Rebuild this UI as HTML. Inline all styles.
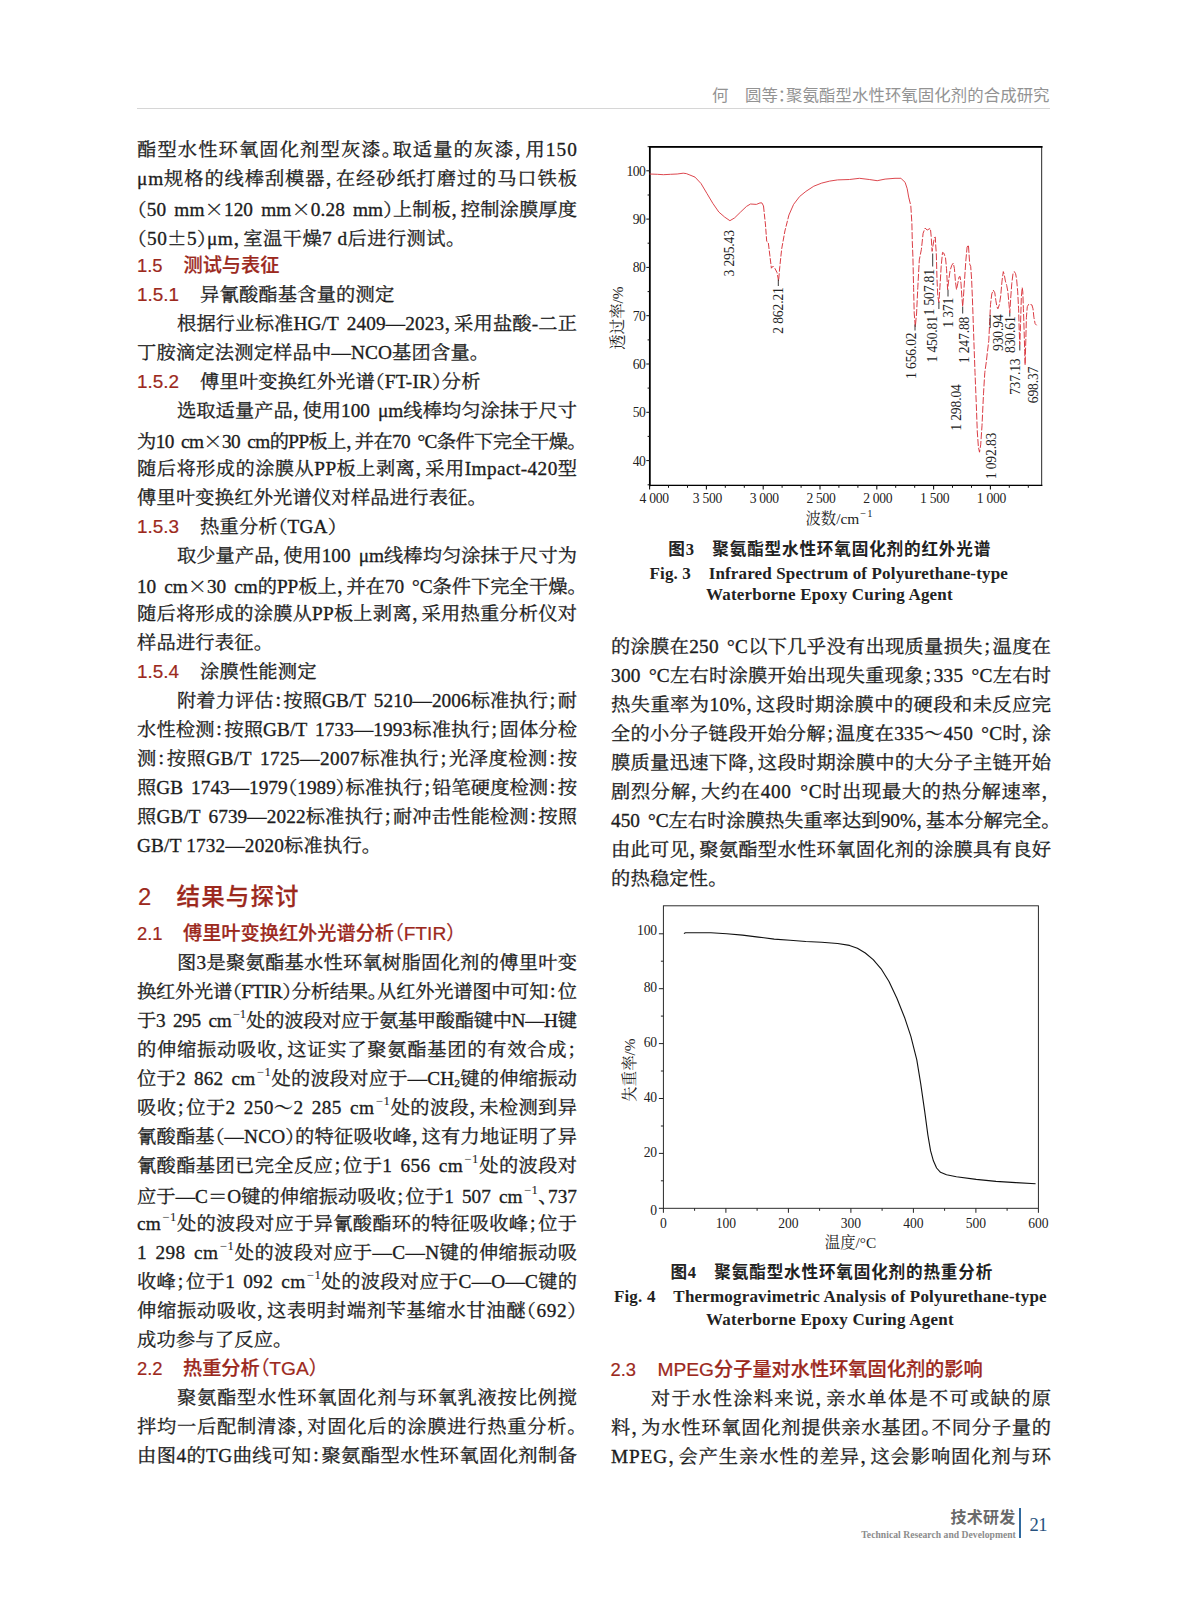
<!DOCTYPE html>
<html lang="zh-CN"><head><meta charset="utf-8"><title>聚氨酯型水性环氧固化剂的合成研究</title>
<style>
html,body{margin:0;padding:0;background:#fff;}
body{width:1187px;height:1600px;position:relative;overflow:hidden;
 font-family:"Liberation Serif","Noto Serif CJK SC",serif;color:#1c1c1c;}
.l{position:absolute;height:30px;line-height:30px;font-size:18.3px;white-space:nowrap;
 font-feature-settings:"halt";font-weight:400;-webkit-text-stroke-width:0.3px;transform:scaleX(1.055);transform-origin:0 50%;}
.nx{transform:none;}
.c{font-family:"Noto Serif CJK SC",serif;}
.h{font-family:"Liberation Sans","Noto Sans CJK SC",sans-serif;color:#9c291d;-webkit-text-stroke-width:0;}
.hb{font-weight:500;-webkit-text-stroke-width:0.22px;}
.n{font-family:"Liberation Sans",sans-serif;color:#9c291d;font-size:18.9px;-webkit-text-stroke-width:0.2px;word-spacing:0;}
sup{font-size:12px;line-height:0;vertical-align:8.8px;padding:0 0.5px 0 1.5px;-webkit-text-stroke-width:0.1px;}
sub{font-size:11px;line-height:0;vertical-align:-2px;}
svg{position:absolute;left:0;top:0;}
svg text{font-family:"Liberation Serif","Noto Serif CJK SC",serif;fill:#222;}
</style></head><body>
<svg width="1187" height="1600" viewBox="0 0 1187 1600">
<rect x="649.8" y="146.8" width="391.9" height="338.6" fill="none" stroke="#111" stroke-width="0.9"/>
<path d="M649.8 485.4 V146.8 H1041.7" fill="none" stroke="#000" stroke-width="1.7" stroke-linecap="square"/>
<path d="M649.8 485.4 H1041.7" fill="none" stroke="#000" stroke-width="1.3" stroke-linecap="square"/>
<line x1="646.3" y1="460.6" x2="649.8" y2="460.6" stroke="#111" stroke-width="1"/>
<text x="645.4" y="465.5" font-size="13.6" letter-spacing="-0.5" text-anchor="end">40</text>
<line x1="646.3" y1="412.3" x2="649.8" y2="412.3" stroke="#111" stroke-width="1"/>
<text x="645.4" y="417.2" font-size="13.6" letter-spacing="-0.5" text-anchor="end">50</text>
<line x1="646.3" y1="364.0" x2="649.8" y2="364.0" stroke="#111" stroke-width="1"/>
<text x="645.4" y="368.9" font-size="13.6" letter-spacing="-0.5" text-anchor="end">60</text>
<line x1="646.3" y1="315.7" x2="649.8" y2="315.7" stroke="#111" stroke-width="1"/>
<text x="645.4" y="320.6" font-size="13.6" letter-spacing="-0.5" text-anchor="end">70</text>
<line x1="646.3" y1="267.4" x2="649.8" y2="267.4" stroke="#111" stroke-width="1"/>
<text x="645.4" y="272.3" font-size="13.6" letter-spacing="-0.5" text-anchor="end">80</text>
<line x1="646.3" y1="219.1" x2="649.8" y2="219.1" stroke="#111" stroke-width="1"/>
<text x="645.4" y="224.0" font-size="13.6" letter-spacing="-0.5" text-anchor="end">90</text>
<line x1="646.3" y1="170.8" x2="649.8" y2="170.8" stroke="#111" stroke-width="1"/>
<text x="645.4" y="175.7" font-size="13.6" letter-spacing="-0.5" text-anchor="end">100</text>
<line x1="647.5999999999999" y1="484.8" x2="649.8" y2="484.8" stroke="#111" stroke-width="1"/>
<line x1="647.5999999999999" y1="436.4" x2="649.8" y2="436.4" stroke="#111" stroke-width="1"/>
<line x1="647.5999999999999" y1="388.1" x2="649.8" y2="388.1" stroke="#111" stroke-width="1"/>
<line x1="647.5999999999999" y1="339.9" x2="649.8" y2="339.9" stroke="#111" stroke-width="1"/>
<line x1="647.5999999999999" y1="291.6" x2="649.8" y2="291.6" stroke="#111" stroke-width="1"/>
<line x1="647.5999999999999" y1="243.2" x2="649.8" y2="243.2" stroke="#111" stroke-width="1"/>
<line x1="647.5999999999999" y1="195.0" x2="649.8" y2="195.0" stroke="#111" stroke-width="1"/>
<line x1="647.5999999999999" y1="146.7" x2="649.8" y2="146.7" stroke="#111" stroke-width="1"/>
<line x1="649.6" y1="485.4" x2="649.6" y2="489.4" stroke="#111" stroke-width="1.1"/>
<text x="654.1" y="503" font-size="13.6" letter-spacing="-0.3" text-anchor="middle">4 000</text>
<line x1="668.5" y1="485.4" x2="668.5" y2="487.79999999999995" stroke="#111" stroke-width="1"/>
<line x1="687.5" y1="485.4" x2="687.5" y2="487.79999999999995" stroke="#111" stroke-width="1"/>
<line x1="706.4" y1="485.4" x2="706.4" y2="489.4" stroke="#111" stroke-width="1.1"/>
<text x="707.4" y="503" font-size="13.6" letter-spacing="-0.3" text-anchor="middle">3 500</text>
<line x1="725.3" y1="485.4" x2="725.3" y2="487.79999999999995" stroke="#111" stroke-width="1"/>
<line x1="744.3" y1="485.4" x2="744.3" y2="487.79999999999995" stroke="#111" stroke-width="1"/>
<line x1="763.2" y1="485.4" x2="763.2" y2="489.4" stroke="#111" stroke-width="1.1"/>
<text x="764.2" y="503" font-size="13.6" letter-spacing="-0.3" text-anchor="middle">3 000</text>
<line x1="782.1" y1="485.4" x2="782.1" y2="487.79999999999995" stroke="#111" stroke-width="1"/>
<line x1="801.1" y1="485.4" x2="801.1" y2="487.79999999999995" stroke="#111" stroke-width="1"/>
<line x1="820.0" y1="485.4" x2="820.0" y2="489.4" stroke="#111" stroke-width="1.1"/>
<text x="821.0" y="503" font-size="13.6" letter-spacing="-0.3" text-anchor="middle">2 500</text>
<line x1="838.9" y1="485.4" x2="838.9" y2="487.79999999999995" stroke="#111" stroke-width="1"/>
<line x1="857.9" y1="485.4" x2="857.9" y2="487.79999999999995" stroke="#111" stroke-width="1"/>
<line x1="876.8" y1="485.4" x2="876.8" y2="489.4" stroke="#111" stroke-width="1.1"/>
<text x="877.8" y="503" font-size="13.6" letter-spacing="-0.3" text-anchor="middle">2 000</text>
<line x1="895.7" y1="485.4" x2="895.7" y2="487.79999999999995" stroke="#111" stroke-width="1"/>
<line x1="914.7" y1="485.4" x2="914.7" y2="487.79999999999995" stroke="#111" stroke-width="1"/>
<line x1="933.6" y1="485.4" x2="933.6" y2="489.4" stroke="#111" stroke-width="1.1"/>
<text x="934.6" y="503" font-size="13.6" letter-spacing="-0.3" text-anchor="middle">1 500</text>
<line x1="952.5" y1="485.4" x2="952.5" y2="487.79999999999995" stroke="#111" stroke-width="1"/>
<line x1="971.5" y1="485.4" x2="971.5" y2="487.79999999999995" stroke="#111" stroke-width="1"/>
<line x1="990.4" y1="485.4" x2="990.4" y2="489.4" stroke="#111" stroke-width="1.1"/>
<text x="991.4" y="503" font-size="13.6" letter-spacing="-0.3" text-anchor="middle">1 000</text>
<line x1="1009.3" y1="485.4" x2="1009.3" y2="487.79999999999995" stroke="#111" stroke-width="1"/>
<line x1="1028.3" y1="485.4" x2="1028.3" y2="487.79999999999995" stroke="#111" stroke-width="1"/>
<text x="839.5" y="523.5" font-size="15.4" text-anchor="middle">波数/cm<tspan font-size="10.5" dy="-6.5" dx="1" letter-spacing="1">−1</tspan></text>
<text transform="translate(622.5,318) rotate(-90)" font-size="15.4" text-anchor="middle">透过率/%</text>
<path d="M649.5 174.0 L657.4 174.3 L663.4 174.7 L670.5 174.3 L677.2 174.0 L683.2 173.2 L686.3 173.6 L689.1 174.7 L695.0 177.1 L701.0 183.5 L706.9 193.4 L712.8 203.3 L718.8 212.0 L724.7 217.1 L729.9 220.7 L734.6 217.9 L740.6 212.0 L746.5 206.4 L750.5 204.0 L756.4 204.4 L760.0 202.9 L761.9 202.9 L763.5 206.0" fill="none" stroke="#d8323a" stroke-width="0.9" stroke-linejoin="round"/>
<path d="M763.5 206.0 L765.5 225.0 L766.7 241.3 L768.3 242.5 L769.9 255.9 L771.4 268.2 L773.0 266.2 L775.0 268.6 L777.0 272.5 L778.6 280.9 L779.8 266.6 L781.7 248.8 L784.9 231.0 L788.9 215.1" fill="none" stroke="#d8323a" stroke-width="0.95" stroke-dasharray="6 1.6" stroke-linejoin="round"/>
<path d="M788.9 215.1 L793.6 204.4 L799.6 196.5 L805.9 191.4 L813.8 186.2 L821.7 183.1 L829.7 181.1 L837.6 179.9 L849.5 179.5 L859.4 178.3 L869.3 179.5 L877.2 180.7 L885.1 179.1 L895.0 178.3 L900.9 178.3 L901.3 178.7 L905.1 182.3 L907.2 188.7 L908.7 197.2" fill="none" stroke="#d8323a" stroke-width="0.9" stroke-linejoin="round"/>
<path d="M908.7 197.2 L910.8 205.7 L911.9 223.8 L912.3 241.8 L912.9 256.7 L913.6 287.5 L914.2 313.0 L915.3 326.8 L916.6 313.0 L917.8 287.5 L919.3 259.9 L921.4 249.3 L923.1 233.3 L925.1 228.0 L927.2 230.1 L928.9 229.1 L930.4 228.4 L931.2 236.5 L932.1 251.4 L933.1 245.0 L934.4 237.6 L935.3 237.1 L935.7 245.0 L936.3 253.5 L937.0 279.0 L937.8 296.0 L938.9 302.4 L939.9 287.5 L941.2 266.3 L942.5 252.4 L943.8 253.1 L945.5 257.8 L946.5 268.4 L947.6 289.6 L948.6 281.1 L950.1 270.5 L951.8 265.2 L953.3 263.1 L954.4 268.4 L955.4 281.1 L956.5 289.6 L957.8 283.3 L959.1 276.9 L960.1 276.5 L961.0 283.3 L961.8 296.0 L962.7 306.6 L963.5 296.0 L964.6 279.0 L965.9 259.9 L967.1 247.1 L968.4 245.0 L969.0 253.5 L969.7 264.1 L970.7 266.3 L971.6 279.0 L972.4 298.1 L973.5 330.0 L975.0 372.5 L976.3 404.4 L977.3 432.0 L978.4 446.9 L979.5 452.2 L980.7 444.8 L982.0 425.6 L983.5 393.8 L984.8 372.5 L986.3 361.9 L987.5 351.3 L988.8 340.6 L989.7 321.5 L990.5 304.5 L991.8 293.9 L993.3 290.1 L994.8 292.8 L995.8 300.3 L996.9 306.6 L997.9 308.8 L999.4 304.5 L1000.7 296.0 L1002.0 281.1 L1003.3 271.6 L1004.3 274.8 L1005.4 281.1 L1006.7 285.4 L1007.9 291.8 L1009.0 304.5 L1009.8 313.0 L1010.7 298.1 L1011.8 283.3 L1013.0 273.7 L1014.3 271.6 L1015.6 273.7 L1016.6 279.0 L1017.7 291.8 L1018.6 308.8 L1019.2 330.0 L1019.8 344.9 L1020.5 325.8 L1021.3 298.1 L1022.2 287.5 L1022.8 291.8 L1023.4 308.8 L1024.1 330.0 L1024.7 351.3 L1025.1 365.1 L1025.8 340.6 L1026.4 317.3 L1027.3 306.6 L1028.8 304.1 L1030.5 304.5 L1031.9 304.9 L1033.0 308.8 L1033.9 317.3 L1035.1 323.6 L1036.6 325.3" fill="none" stroke="#d8323a" stroke-width="0.95" stroke-dasharray="7 1.8" stroke-linejoin="round"/>
<text transform="translate(733.8,253.3) rotate(-90)" font-size="13.6" letter-spacing="-0.15" text-anchor="middle">3 295.43</text>
<text transform="translate(782.5,310.5) rotate(-90)" font-size="13.6" letter-spacing="-0.15" text-anchor="middle">2 862.21</text>
<text transform="translate(915.9,355.7) rotate(-90)" font-size="13.6" letter-spacing="-0.15" text-anchor="middle">1 656.02</text>
<text transform="translate(933.7,292.3) rotate(-90)" font-size="13.6" letter-spacing="-0.15" text-anchor="middle">1 507.81</text>
<text transform="translate(936.7,339.3) rotate(-90)" font-size="13.6" letter-spacing="-0.15" text-anchor="middle">1 450.81</text>
<text transform="translate(952.5,312.8) rotate(-90)" font-size="13.6" letter-spacing="-0.15" text-anchor="middle">1 371</text>
<text transform="translate(969.3,340.0) rotate(-90)" font-size="13.6" letter-spacing="-0.15" text-anchor="middle">1 247.88</text>
<text transform="translate(960.8,407.5) rotate(-90)" font-size="13.6" letter-spacing="-0.15" text-anchor="middle">1 298.04</text>
<text transform="translate(995.8,456.0) rotate(-90)" font-size="13.6" letter-spacing="-0.15" text-anchor="middle">1 092.83</text>
<text transform="translate(1002.9,332.7) rotate(-90)" font-size="13.6" letter-spacing="-0.15" text-anchor="middle">930.94</text>
<text transform="translate(1015.0,334.7) rotate(-90)" font-size="13.6" letter-spacing="-0.15" text-anchor="middle">830.61</text>
<text transform="translate(1020.3,376.8) rotate(-90)" font-size="13.6" letter-spacing="-0.15" text-anchor="middle">737.13</text>
<text transform="translate(1037.7,385.0) rotate(-90)" font-size="13.6" letter-spacing="-0.15" text-anchor="middle">698.37</text>
<line x1="778.3" y1="279.5" x2="778.3" y2="286" stroke="#222" stroke-width="0.9"/>
<line x1="915" y1="324.5" x2="915" y2="330.5" stroke="#222" stroke-width="0.9"/>
<line x1="932.7" y1="253.5" x2="932.7" y2="266.5" stroke="#222" stroke-width="0.9"/>
<line x1="938.9" y1="302" x2="938.9" y2="309" stroke="#222" stroke-width="0.9"/>
<line x1="948" y1="289.6" x2="948" y2="296.5" stroke="#222" stroke-width="0.9"/>
<line x1="962.7" y1="306.6" x2="962.7" y2="313.5" stroke="#222" stroke-width="0.9"/>
<line x1="990.2" y1="315" x2="990.2" y2="328" stroke="#222" stroke-width="0.9"/>
<line x1="1009.8" y1="313" x2="1009.8" y2="316.5" stroke="#222" stroke-width="0.9"/>
<line x1="1019.8" y1="345" x2="1019.8" y2="350.5" stroke="#222" stroke-width="0.9"/>
<rect x="663.4" y="905.8" width="375.0" height="302.5" fill="none" stroke="#222" stroke-width="0.95"/>
<line x1="658.9" y1="1208.3" x2="663.4" y2="1208.3" stroke="#222" stroke-width="1"/>
<text x="656.9" y="1214.9" font-size="13.6" letter-spacing="-0.2" text-anchor="end">0</text>
<line x1="660.9" y1="1180.8" x2="663.4" y2="1180.8" stroke="#222" stroke-width="1"/>
<line x1="658.9" y1="1153.4" x2="663.4" y2="1153.4" stroke="#222" stroke-width="1"/>
<text x="656.9" y="1157.2" font-size="13.6" letter-spacing="-0.2" text-anchor="end">20</text>
<line x1="660.9" y1="1126.0" x2="663.4" y2="1126.0" stroke="#222" stroke-width="1"/>
<line x1="658.9" y1="1098.5" x2="663.4" y2="1098.5" stroke="#222" stroke-width="1"/>
<text x="656.9" y="1101.9" font-size="13.6" letter-spacing="-0.2" text-anchor="end">40</text>
<line x1="660.9" y1="1071.0" x2="663.4" y2="1071.0" stroke="#222" stroke-width="1"/>
<line x1="658.9" y1="1043.6" x2="663.4" y2="1043.6" stroke="#222" stroke-width="1"/>
<text x="656.9" y="1047.0" font-size="13.6" letter-spacing="-0.2" text-anchor="end">60</text>
<line x1="660.9" y1="1016.1" x2="663.4" y2="1016.1" stroke="#222" stroke-width="1"/>
<line x1="658.9" y1="988.7" x2="663.4" y2="988.7" stroke="#222" stroke-width="1"/>
<text x="656.9" y="991.7" font-size="13.6" letter-spacing="-0.2" text-anchor="end">80</text>
<line x1="660.9" y1="961.2" x2="663.4" y2="961.2" stroke="#222" stroke-width="1"/>
<line x1="658.9" y1="933.8" x2="663.4" y2="933.8" stroke="#222" stroke-width="1"/>
<text x="656.9" y="935.4" font-size="13.6" letter-spacing="-0.2" text-anchor="end">100</text>
<line x1="663.4" y1="1208.3" x2="663.4" y2="1212.8" stroke="#222" stroke-width="1"/>
<text x="663.4" y="1227.8" font-size="13.6" text-anchor="middle">0</text>
<line x1="694.6" y1="1208.3" x2="694.6" y2="1210.8" stroke="#222" stroke-width="1"/>
<line x1="725.9" y1="1208.3" x2="725.9" y2="1212.8" stroke="#222" stroke-width="1"/>
<text x="725.9" y="1227.8" font-size="13.6" text-anchor="middle">100</text>
<line x1="757.1" y1="1208.3" x2="757.1" y2="1210.8" stroke="#222" stroke-width="1"/>
<line x1="788.4" y1="1208.3" x2="788.4" y2="1212.8" stroke="#222" stroke-width="1"/>
<text x="788.4" y="1227.8" font-size="13.6" text-anchor="middle">200</text>
<line x1="819.6" y1="1208.3" x2="819.6" y2="1210.8" stroke="#222" stroke-width="1"/>
<line x1="850.9" y1="1208.3" x2="850.9" y2="1212.8" stroke="#222" stroke-width="1"/>
<text x="850.9" y="1227.8" font-size="13.6" text-anchor="middle">300</text>
<line x1="882.1" y1="1208.3" x2="882.1" y2="1210.8" stroke="#222" stroke-width="1"/>
<line x1="913.4" y1="1208.3" x2="913.4" y2="1212.8" stroke="#222" stroke-width="1"/>
<text x="913.4" y="1227.8" font-size="13.6" text-anchor="middle">400</text>
<line x1="944.6" y1="1208.3" x2="944.6" y2="1210.8" stroke="#222" stroke-width="1"/>
<line x1="975.9" y1="1208.3" x2="975.9" y2="1212.8" stroke="#222" stroke-width="1"/>
<text x="975.9" y="1227.8" font-size="13.6" text-anchor="middle">500</text>
<line x1="1007.1" y1="1208.3" x2="1007.1" y2="1210.8" stroke="#222" stroke-width="1"/>
<line x1="1038.4" y1="1208.3" x2="1038.4" y2="1212.8" stroke="#222" stroke-width="1"/>
<text x="1038.4" y="1227.8" font-size="13.6" text-anchor="middle">600</text>
<text x="850.5" y="1248" font-size="15.4" text-anchor="middle">温度/°C</text>
<text transform="translate(634.5,1070) rotate(-90)" font-size="15.4" text-anchor="middle">失重率/%</text>
<path d="M683.9 933.4 L685.5 932.8 L710.9 932.8 L726.7 933.8 L742.5 935.1 L758.4 937.1 L774.2 939.1 L790.1 940.3 L805.9 941.5 L821.7 942.3 L837.6 943.5 L849.5 945.4 L857.4 948.2 L865.3 953.0 L873.2 959.7 L881.1 968.8 L889.0 981.5 L897.0 998.5 L904.9 1018.3 L910.8 1036.1 L916.8 1059.9 L920.7 1083.6 L924.7 1111.3 L927.9 1135.1 L930.6 1150.9 L933.4 1160.8 L936.6 1168.0 L940.5 1172.3 L946.5 1174.7 L956.4 1176.7 L976.2 1179.4 L996.0 1181.4 L1015.8 1182.6 L1035.6 1183.8" fill="none" stroke="#111" stroke-width="1.1" stroke-linejoin="round"/>
</svg>
<div class="l" style="left:137.0px;top:134.6px;letter-spacing:1.044px;word-spacing:3px;">酯型水性环氧固化剂型灰漆。取适量的灰漆，用150</div>
<div class="l" style="left:137.0px;top:163.6px;letter-spacing:0.830px;word-spacing:3px;">μm规格的线棒刮模器，在经砂纸打磨过的马口铁板</div>
<div class="l" style="left:137.0px;top:192.7px;letter-spacing:0.091px;word-spacing:3px;">（50 mm<span class="c">×</span>120 mm<span class="c">×</span>0.28 mm）上制板，控制涂膜厚度</div>
<div class="l" style="left:137.0px;top:221.7px;letter-spacing:0.15px;letter-spacing:0.4px;">（50<span class="c">±</span>5）μm，室温干燥7 d后进行测试。</div>
<div class="l nx" style="left:137.0px;top:250.7px;"><span class="n" style="font-size:18.4px;-webkit-text-stroke-width:0.2px">1.5</span></div>
<div class="l nx" style="left:183.5px;top:250.7px;"><span class="h hb" style="font-size:19.2px">测试与表征</span></div>
<div class="l nx" style="left:137.0px;top:279.8px;"><span class="n">1.5.1</span></div>
<div class="l" style="left:199.6px;top:279.8px;letter-spacing:0.15px;">异氰酸酯基含量的测定</div>
<div class="l" style="left:177.0px;top:308.8px;letter-spacing:0.120px;word-spacing:3px;">根据行业标准HG/T 2409—2023，采用盐酸-二正</div>
<div class="l" style="left:137.0px;top:337.8px;letter-spacing:0.15px;">丁胺滴定法测定样品中—NCO基团含量。</div>
<div class="l nx" style="left:137.0px;top:366.9px;"><span class="n">1.5.2</span></div>
<div class="l" style="left:199.6px;top:366.9px;letter-spacing:0.15px;">傅里叶变换红外光谱（FT-IR）分析</div>
<div class="l" style="left:177.0px;top:395.9px;letter-spacing:0.009px;word-spacing:3px;">选取适量产品，使用100 μm线棒均匀涂抹于尺寸</div>
<div class="l" style="left:137.0px;top:425.0px;letter-spacing:-0.601px;word-spacing:3px;">为10 cm<span class="c">×</span>30 cm的PP板上，并在70 °C条件下完全干燥。</div>
<div class="l" style="left:137.0px;top:454.0px;letter-spacing:0.386px;word-spacing:3px;">随后将形成的涂膜从PP板上剥离，采用Impact-420型</div>
<div class="l" style="left:137.0px;top:483.0px;letter-spacing:0.15px;">傅里叶变换红外光谱仪对样品进行表征。</div>
<div class="l nx" style="left:137.0px;top:512.1px;"><span class="n">1.5.3</span></div>
<div class="l" style="left:199.6px;top:512.1px;letter-spacing:0.15px;">热重分析（TGA）</div>
<div class="l" style="left:177.0px;top:541.1px;letter-spacing:0.009px;word-spacing:3px;">取少量产品，使用100 μm线棒均匀涂抹于尺寸为</div>
<div class="l" style="left:137.0px;top:570.1px;letter-spacing:-0.030px;word-spacing:3px;">10 cm<span class="c">×</span>30 cm的PP板上，并在70 °C条件下完全干燥。</div>
<div class="l" style="left:137.0px;top:599.2px;letter-spacing:0.160px;word-spacing:3px;">随后将形成的涂膜从PP板上剥离，采用热重分析仪对</div>
<div class="l" style="left:137.0px;top:628.2px;letter-spacing:0.15px;">样品进行表征。</div>
<div class="l nx" style="left:137.0px;top:657.2px;"><span class="n">1.5.4</span></div>
<div class="l" style="left:199.6px;top:657.2px;letter-spacing:0.15px;">涂膜性能测定</div>
<div class="l" style="left:177.0px;top:686.3px;letter-spacing:0.045px;word-spacing:3px;">附着力评估：按照GB/T 5210—2006标准执行；耐</div>
<div class="l" style="left:137.0px;top:715.3px;letter-spacing:0.088px;word-spacing:3px;">水性检测：按照GB/T 1733—1993标准执行；固体分检</div>
<div class="l" style="left:137.0px;top:744.3px;letter-spacing:0.403px;word-spacing:3px;">测：按照GB/T 1725—2007标准执行；光泽度检测：按</div>
<div class="l" style="left:137.0px;top:773.4px;letter-spacing:0.006px;word-spacing:3px;">照GB 1743—1979（1989）标准执行；铅笔硬度检测：按</div>
<div class="l" style="left:137.0px;top:802.4px;letter-spacing:0.088px;word-spacing:3px;">照GB/T 6739—2022标准执行；耐冲击性能检测：按照</div>
<div class="l" style="left:137.0px;top:831.4px;letter-spacing:0.15px;">GB/T 1732—2020标准执行。</div>
<div class="l h nx" style="left:138px;top:880.5px;height:32px;line-height:32px;font-size:23.8px;-webkit-text-stroke-width:0.2px;">2</div>
<div class="l h nx" style="left:176.6px;top:880.5px;height:32px;line-height:32px;font-size:23.5px;letter-spacing:1.1px;font-weight:500;-webkit-text-stroke-width:0.25px;">结果与探讨</div>
<div class="l nx" style="left:137.0px;top:919.1px;"><span class="n" style="font-size:18.4px;-webkit-text-stroke-width:0.2px">2.1</span></div>
<div class="l nx" style="left:183.0px;top:919.1px;"><span class="h hb" style="font-size:19.2px">傅里叶变换红外光谱分析<span style="font-weight:400">（FTIR）</span></span></div>
<div class="l" style="left:177.0px;top:947.8px;letter-spacing:0.219px;word-spacing:3px;">图3是聚氨酯基水性环氧树脂固化剂的傅里叶变</div>
<div class="l" style="left:137.0px;top:976.8px;letter-spacing:-0.248px;word-spacing:3px;">换红外光谱（FTIR）分析结果。从红外光谱图中可知：位</div>
<div class="l" style="left:137.0px;top:1005.9px;letter-spacing:-0.320px;word-spacing:3px;">于3 295 cm<sup>−1</sup>处的波段对应于氨基甲酸酯键中N—H键</div>
<div class="l" style="left:137.0px;top:1034.9px;letter-spacing:0.676px;word-spacing:3px;">的伸缩振动吸收，这证实了聚氨酯基团的有效合成；</div>
<div class="l" style="left:137.0px;top:1063.9px;letter-spacing:0.172px;word-spacing:3px;">位于2 862 cm<sup>−1</sup>处的波段对应于—CH<sub>2</sub>键的伸缩振动</div>
<div class="l" style="left:137.0px;top:1093.0px;letter-spacing:0.330px;word-spacing:3px;">吸收；位于2 250～2 285 cm<sup>−1</sup>处的波段，未检测到异</div>
<div class="l" style="left:137.0px;top:1122.0px;letter-spacing:0.154px;word-spacing:3px;">氰酸酯基（—NCO）的特征吸收峰，这有力地证明了异</div>
<div class="l" style="left:137.0px;top:1151.0px;letter-spacing:0.308px;word-spacing:3px;">氰酸酯基团已完全反应；位于1 656 cm<sup>−1</sup>处的波段对</div>
<div class="l" style="left:137.0px;top:1180.0px;letter-spacing:0.040px;word-spacing:3px;">应于—C<span class="c">＝</span>O键的伸缩振动吸收；位于1 507 cm<sup>−1</sup>、737</div>
<div class="l" style="left:137.0px;top:1209.1px;letter-spacing:0.215px;word-spacing:3px;">cm<sup>−1</sup>处的波段对应于异氰酸酯环的特征吸收峰；位于</div>
<div class="l" style="left:137.0px;top:1238.1px;letter-spacing:0.382px;word-spacing:3px;">1 298 cm<sup>−1</sup>处的波段对应于—C—N键的伸缩振动吸</div>
<div class="l" style="left:137.0px;top:1267.1px;letter-spacing:0.260px;word-spacing:3px;">收峰；位于1 092 cm<sup>−1</sup>处的波段对应于C—O—C键的</div>
<div class="l" style="left:137.0px;top:1296.2px;letter-spacing:0.620px;word-spacing:3px;">伸缩振动吸收，这表明封端剂苄基缩水甘油醚（692）</div>
<div class="l" style="left:137.0px;top:1325.2px;letter-spacing:0.15px;">成功参与了反应。</div>
<div class="l nx" style="left:137.0px;top:1354.2px;"><span class="n" style="font-size:18.4px;-webkit-text-stroke-width:0.2px">2.2</span></div>
<div class="l nx" style="left:183.0px;top:1354.2px;"><span class="h hb" style="font-size:19.2px">热重分析<span style="font-weight:400">（TGA）</span></span></div>
<div class="l" style="left:177.0px;top:1383.2px;letter-spacing:0.712px;word-spacing:3px;">聚氨酯型水性环氧固化剂与环氧乳液按比例搅</div>
<div class="l" style="left:137.0px;top:1412.3px;letter-spacing:0.676px;word-spacing:3px;">拌均一后配制清漆，对固化后的涂膜进行热重分析。</div>
<div class="l" style="left:137.0px;top:1441.3px;letter-spacing:0.382px;word-spacing:3px;">由图4的TG曲线可知：聚氨酯型水性环氧固化剂制备</div>
<div class="l" style="left:611.0px;top:631.6px;letter-spacing:0.243px;word-spacing:3px;">的涂膜在250 °C以下几乎没有出现质量损失；温度在</div>
<div class="l" style="left:611.0px;top:660.6px;letter-spacing:0.229px;word-spacing:3px;">300 °C左右时涂膜开始出现失重现象；335 °C左右时</div>
<div class="l" style="left:611.0px;top:689.7px;letter-spacing:0.382px;word-spacing:3px;">热失重率为10%，这段时期涂膜中的硬段和未反应完</div>
<div class="l" style="left:611.0px;top:718.7px;letter-spacing:0.225px;word-spacing:3px;">全的小分子链段开始分解；温度在335～450 °C时，涂</div>
<div class="l" style="left:611.0px;top:747.8px;letter-spacing:0.261px;word-spacing:3px;">膜质量迅速下降，这段时期涂膜中的大分子主链开始</div>
<div class="l" style="left:611.0px;top:776.8px;letter-spacing:0.609px;word-spacing:3px;">剧烈分解，大约在400 °C时出现最大的热分解速率，</div>
<div class="l" style="left:611.0px;top:805.9px;letter-spacing:-0.000px;word-spacing:3px;">450 °C左右时涂膜热失重率达到90%，基本分解完全。</div>
<div class="l" style="left:611.0px;top:834.9px;letter-spacing:0.261px;word-spacing:3px;">由此可见，聚氨酯型水性环氧固化剂的涂膜具有良好</div>
<div class="l" style="left:611.0px;top:864.0px;letter-spacing:0.15px;">的热稳定性。</div>
<div class="l nx" style="left:610.5px;top:1355.2px;"><span class="n" style="font-size:18.4px;-webkit-text-stroke-width:0.2px">2.3</span></div>
<div class="l nx" style="left:657.5px;top:1355.2px;"><span class="h hb" style="font-size:19.2px"><span style="font-weight:400">MPEG</span>分子量对水性环氧固化剂的影响</span></div>
<div class="l" style="left:651.0px;top:1383.7px;letter-spacing:1.193px;word-spacing:3px;">对于水性涂料来说，亲水单体是不可或缺的原</div>
<div class="l" style="left:611.0px;top:1412.6px;letter-spacing:0.676px;word-spacing:3px;">料，为水性环氧固化剂提供亲水基团。不同分子量的</div>
<div class="l" style="left:611.0px;top:1441.5px;letter-spacing:0.823px;word-spacing:3px;">MPEG，会产生亲水性的差异，这会影响固化剂与环</div>
<div style="position:absolute;left:137px;top:107.8px;width:913px;height:1.5px;background:#d6d6d6;"></div>
<div class="" style="position:absolute;white-space:nowrap;left:712.0px;top:81.8px;height:26px;line-height:26px;font-size:16.4px;font-family:'Liberation Sans','Noto Sans CJK SC',sans-serif;font-weight:400;color:#939393;font-feature-settings:'halt';letter-spacing:0.074px;">何　圆等：聚氨酯型水性环氧固化剂的合成研究</div>
<div class="" style="position:absolute;white-space:nowrap;left:950.4px;top:1504.1px;height:24px;line-height:24px;font-size:16px;font-family:'Noto Sans CJK SC',sans-serif;font-weight:700;color:#6a6a6a;letter-spacing:0.261px;">技术研发</div>
<div class="" style="position:absolute;white-space:nowrap;left:861.3px;top:1527.7px;height:14px;line-height:14px;font-size:9.6px;font-family:'Liberation Serif',serif;font-weight:700;color:#8c8c8c;letter-spacing:0.038px;">Technical Research and Development</div>
<div style="position:absolute;left:1018.5px;top:1507.5px;width:2.6px;height:30.5px;background:#2f6aa0;"></div>
<div class="" style="position:absolute;white-space:nowrap;left:1029.6px;top:1512.0px;height:26px;line-height:26px;font-size:18.6px;font-family:'Liberation Serif',serif;color:#27527e;letter-spacing:-0.594px;">21</div>
<div class="" style="position:absolute;white-space:nowrap;left:668.3px;top:538.7px;height:22px;line-height:22px;font-family:'Liberation Serif','Noto Sans CJK SC',sans-serif;font-size:16.6px;font-weight:700;color:#222;letter-spacing:0.834px;">图3　聚氨酯型水性环氧固化剂的红外光谱</div>
<div class="" style="position:absolute;white-space:nowrap;left:649.5px;top:562.5px;height:22px;line-height:22px;font-family:'Liberation Serif',serif;font-size:17px;font-weight:700;color:#222;letter-spacing:0.152px;">Fig. 3&nbsp;&nbsp;&nbsp;&nbsp;Infrared Spectrum of Polyurethane-type</div>
<div class="" style="position:absolute;white-space:nowrap;left:706.0px;top:584.2px;height:22px;line-height:22px;font-family:'Liberation Serif',serif;font-size:17px;font-weight:700;color:#222;letter-spacing:0.189px;">Waterborne Epoxy Curing Agent</div>
<div class="" style="position:absolute;white-space:nowrap;left:670.4px;top:1262.3px;height:22px;line-height:22px;font-family:'Liberation Serif','Noto Sans CJK SC',sans-serif;font-size:16.6px;font-weight:700;color:#222;letter-spacing:0.829px;">图4　聚氨酯型水性环氧固化剂的热重分析</div>
<div class="" style="position:absolute;white-space:nowrap;left:613.9px;top:1286.0px;height:22px;line-height:22px;font-family:'Liberation Serif',serif;font-size:17px;font-weight:700;color:#222;letter-spacing:0.186px;">Fig. 4&nbsp;&nbsp;&nbsp;&nbsp;Thermogravimetric Analysis of Polyurethane-type</div>
<div class="" style="position:absolute;white-space:nowrap;left:706.0px;top:1308.6px;height:22px;line-height:22px;font-family:'Liberation Serif',serif;font-size:17px;font-weight:700;color:#222;letter-spacing:0.225px;">Waterborne Epoxy Curing Agent</div>
</body></html>
